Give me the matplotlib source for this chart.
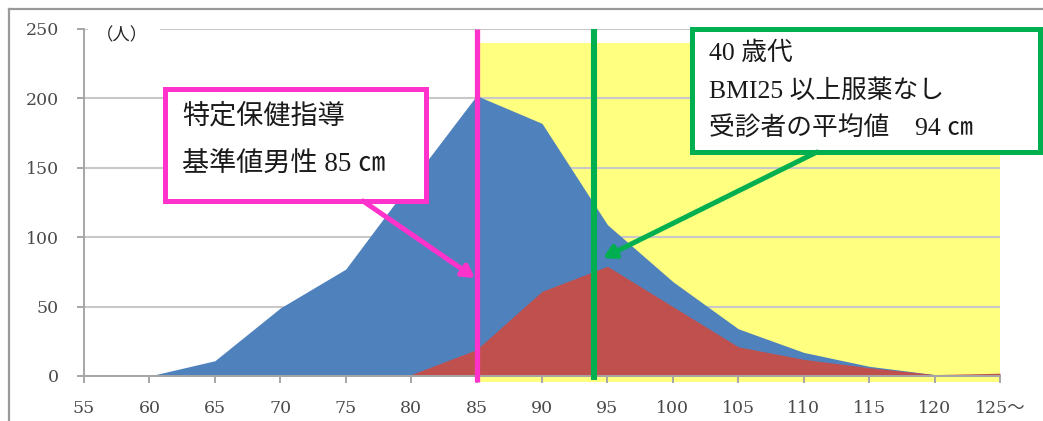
import matplotlib
matplotlib.use("Agg")
import matplotlib.pyplot as plt
from matplotlib.patches import Rectangle, FancyArrowPatch

# Waist circumference classes (cm) and number of examinees per class
waist_cm = [55, 60, 65, 70, 75, 80, 85, 90, 95, 100, 105, 110, 115, 120, 125]
waist_labels = ["55", "60", "65", "70", "75", "80", "85", "90", "95", "100",
                "105", "110", "115", "120", "125～"]
all_examinees = [0, 0, 11, 49, 77, 140, 202, 182, 109, 68, 34, 17, 7, 1, 1]
bmi25_no_meds = [0, 0, 0, 0, 0, 1, 19, 61, 79, 50, 21, 12, 6, 1, 2]
count_ticks = [0, 50, 100, 150, 200, 250]

guideline_cm = 85   # specific health guidance criterion (men)
mean_cm = 94        # mean of examinees in their 40s, BMI >= 25, no medication
shade_top = 240     # height of the highlighted band above the criterion

W, H = 1043, 421
fig = plt.figure(figsize=(W / 100, H / 100), dpi=100)
fig.patch.set_facecolor("white")


def fx(x):
    return x / W


def fy(y):
    return 1 - y / H


ax = fig.add_axes([fx(84), fy(376), (1000 - 84) / W, (376 - 29) / H])
ax.set_xlim(waist_cm[0], waist_cm[-1])
ax.set_ylim(count_ticks[0], count_ticks[-1])
ax.set_facecolor("white")

grey = "#A6A6A6"
for side in ("top", "right"):
    ax.spines[side].set_visible(False)
ax.spines["left"].set_color(grey)
ax.spines["left"].set_linewidth(1.4)
ax.spines["bottom"].set_color(grey)
ax.spines["bottom"].set_linewidth(1.4)

ax.set_xticks(waist_cm)
ax.set_xticklabels(waist_labels)
ax.set_yticks(count_ticks)
ax.tick_params(axis="both", direction="out", length=5, width=1.4, color=grey,
               labelcolor="#4A4A4A", labelsize=12.5)
ax.tick_params(axis="x", pad=12)
ax.tick_params(axis="y", pad=13)
for lab in ax.get_xticklabels() + ax.get_yticklabels():
    lab.set_family(["DejaVu Serif", "Noto Sans CJK JP"])

ax.set_axisbelow(True)
ax.yaxis.grid(True, color="#C8C8C8", linewidth=1.5)

# Highlighted band from the criterion to the top class
ax.add_patch(Rectangle((guideline_cm, -4), waist_cm[-1] - guideline_cm, shade_top + 4,
                       facecolor="#FFFF80", edgecolor="none", zorder=0.2, clip_on=False))

ax.fill_between(waist_cm, all_examinees, color="#4F81BD", linewidth=0, zorder=1)
ax.fill_between(waist_cm, bmi25_no_meds, color="#C0504D", linewidth=0, zorder=1.1)

magenta = "#FF33CC"
green = "#00B050"
ax.plot([guideline_cm, guideline_cm], [-4, count_ticks[-1]], color=magenta,
        linewidth=3.8, zorder=3, clip_on=False, solid_capstyle="butt")
ax.plot([mean_cm, mean_cm], [-3, count_ticks[-1]], color=green,
        linewidth=4.4, zorder=3, clip_on=False, solid_capstyle="butt")

# Unit label on the count axis
fig.patches.append(Rectangle((fx(88), fy(45)), fx(160) - fx(88), fy(22) - fy(45),
                             transform=fig.transFigure, facecolor="white",
                             edgecolor="none", zorder=2))
fig.text(fx(96), fy(35), "（人）", fontsize=12.5, color="#262626", va="center",
         ha="left", family=["Noto Sans CJK JP"], zorder=3)

# Callout boxes
box_font = ["Liberation Serif", "Noto Sans CJK JP"]
fig.patches.append(Rectangle((fx(165), fy(201)), fx(426) - fx(165), fy(89) - fy(201),
                             transform=fig.transFigure, facecolor="white",
                             edgecolor=magenta, linewidth=3.6, zorder=4))
fig.text(fx(182), fy(117), "特定保健指導", fontsize=19.5, family=box_font,
         color="#1A1A1A", va="center", ha="left", zorder=5)
fig.text(fx(182), fy(165), "基準値男性 85 ㎝", fontsize=19.5, family=box_font,
         color="#1A1A1A", va="center", ha="left", zorder=5)

fig.patches.append(Rectangle((fx(692), fy(152)), fx(1040) - fx(692), fy(29) - fy(152),
                             transform=fig.transFigure, facecolor="white",
                             edgecolor=green, linewidth=3.6, zorder=4))
fig.text(fx(709), fy(53), "40 歳代", fontsize=18.5, family=box_font,
         color="#1A1A1A", va="center", ha="left", zorder=5)
fig.text(fx(709), fy(91), "BMI25 以上服薬なし", fontsize=18.5, family=box_font,
         color="#1A1A1A", va="center", ha="left", zorder=5)
fig.text(fx(709), fy(129), "受診者の平均値　94 ㎝", fontsize=18.5, family=box_font,
         color="#1A1A1A", va="center", ha="left", zorder=5)

# Arrows from the callouts to the reference lines
fig.patches.append(FancyArrowPatch((fx(363), fy(201)), (fx(475), fy(278)),
                                   transform=fig.transFigure,
                                   arrowstyle="-|>,head_length=7,head_width=4",
                                   color=magenta, linewidth=3.6, shrinkA=0, shrinkB=0,
                                   zorder=4))
fig.patches.append(FancyArrowPatch((fx(817), fy(152)), (fx(603), fy(258)),
                                   transform=fig.transFigure,
                                   arrowstyle="-|>,head_length=7,head_width=4",
                                   color=green, linewidth=3.6, shrinkA=0, shrinkB=0,
                                   zorder=4))

# Chart frame
fig.add_artist(plt.Line2D([fx(9), fx(9)], [fy(9), 0], transform=fig.transFigure,
                          color="#9A9A9A", linewidth=1.6))
fig.add_artist(plt.Line2D([fx(9), 1], [fy(9), fy(9)], transform=fig.transFigure,
                          color="#9A9A9A", linewidth=1.6))

fig.savefig("out.png", dpi=100, facecolor="white")
